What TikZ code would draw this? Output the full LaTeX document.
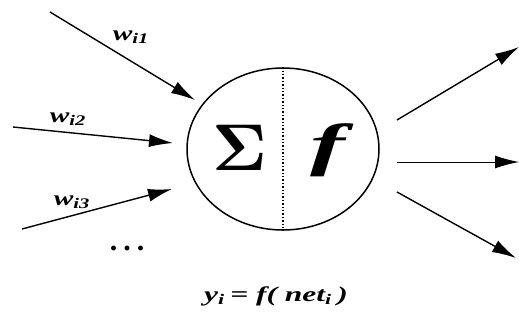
\documentclass[tikz,border=0pt]{standalone}
\usepackage[no-math]{fontspec}
\setmainfont{Liberation Serif}
\usetikzlibrary{arrows.meta,shapes.geometric}

\begin{document}
\begin{tikzpicture}[x=1pt,y=-1pt,
  arr/.style={line width=1.4pt,-{Latex[length=24pt,width=13pt]}},
  lbl/.style={font=\fontsize{21}{21}\selectfont\bfseries\itshape,inner sep=0pt}]
  \useasboundingbox (0,0) rectangle (519,322);
  % neuron
  \node[draw,ellipse,line width=1.5pt,minimum width=192pt,minimum height=162pt] (neuron) at (283,149) {};
  \draw[line width=1.4pt,dotted] (neuron.north) -- (neuron.south);
  \node[inner sep=0pt] (sum) at (240,148) {\scalebox{6.6}{$\mathbf{\Sigma}$}};
  \node[font=\fontsize{58}{58}\selectfont\bfseries\itshape] (act) at (328,150) {\scalebox{1.8}[1]{f}};
  % inputs
  \coordinate (in1) at (50,12);  \coordinate (e1) at (195,100);
  \coordinate (in2) at (13,127); \coordinate (e2) at (173,143);
  \coordinate (in3) at (22,229); \coordinate (e3) at (172,189);
  \draw[arr] (in1) -- (e1);
  \draw[arr] (in2) -- (e2);
  \draw[arr] (in3) -- (e3);
  \node[lbl] (w1) at (131,37) {\scalebox{1.4}[1]{w\textsubscript{\itshape i1}}};
  \node[lbl] (w2) at (68,119) {\scalebox{1.4}[1]{w\textsubscript{\itshape i2}}};
  \node[lbl] (w3) at (72,202) {\scalebox{1.4}[1]{w\textsubscript{\itshape i3}}};
  \node[font=\fontsize{30}{30}\selectfont\bfseries,inner sep=0pt] (dots) at (127,248) {.\kern6pt.\kern6pt.};
  % outputs
  \coordinate (o1) at (397,120); \coordinate (f1) at (519,47);
  \coordinate (o2) at (397,162); \coordinate (f2) at (519,162);
  \coordinate (o3) at (397,192); \coordinate (f3) at (516,258);
  \draw[arr] (o1) -- (f1);
  \draw[arr,line width=1pt] (o2) -- (f2);
  \draw[arr] (o3) -- (f3);
  \node[lbl] (out) at (276,296) {\scalebox{1.5}[1]{y\textsubscript{\itshape i}\,= f( net\textsubscript{\itshape i}\,)}};
\end{tikzpicture}
\end{document}
